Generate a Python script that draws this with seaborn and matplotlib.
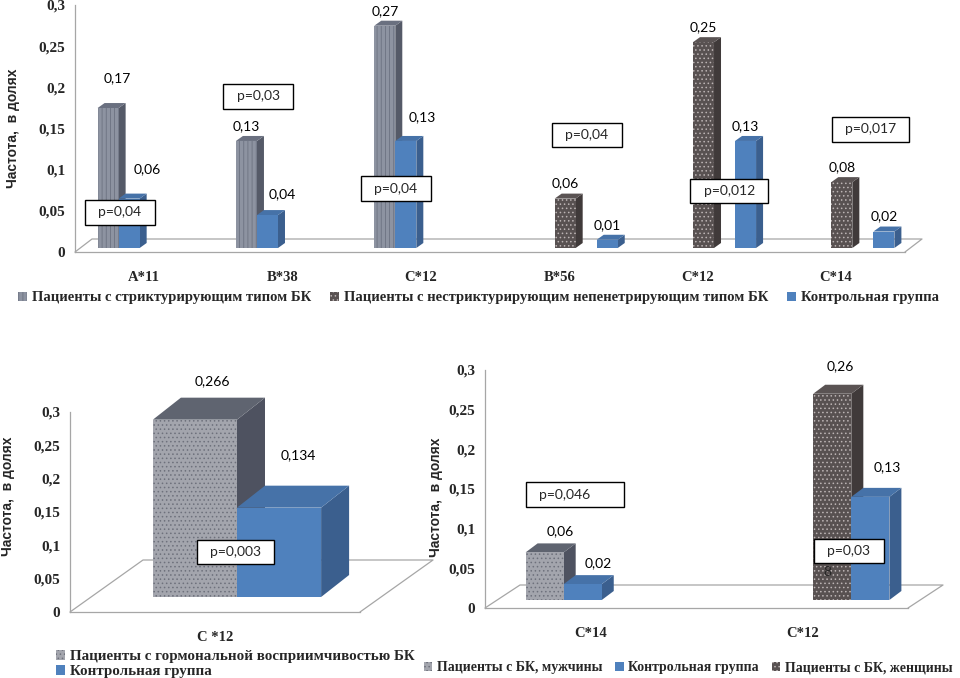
import numpy as np
import pandas as pd
import matplotlib
matplotlib.use("Agg")
import matplotlib.pyplot as plt
import matplotlib.transforms as mtransforms
from matplotlib.patches import Patch, Polygon
from matplotlib.font_manager import FontProperties
import seaborn as sns

# --- top chart: HLA alleles by Crohn's disease type
top_alleles = ["A*11", "B*38", "C*12", "B*56", "C*12", "C*14"]
top_strict = [0.17, 0.13, 0.27, np.nan, np.nan, np.nan]
top_nonstrict = [np.nan, np.nan, np.nan, 0.06, 0.25, 0.08]
top_control = [0.06, 0.04, 0.13, 0.01, 0.13, 0.02]
top_pvalues = ["p=0,04", "p=0,03", "p=0,04", "p=0,04", "p=0,012", "p=0,017"]

# --- bottom-left chart: hormone sensitivity
horm_alleles = ["C *12"]
horm_patients = [0.266]
horm_control = [0.134]
horm_pvalues = ["p=0,003"]

# --- bottom-right chart: by sex
sex_alleles = ["C*14", "C*12"]
sex_men = [0.06, np.nan]
sex_women = [np.nan, 0.26]
sex_control = [0.02, 0.13]
sex_pvalues = ["p=0,046", "p=0,03"]

LBL_STRICT = "Пациенты с стриктурирующим типом БК"
LBL_NONSTRICT = "Пациенты с нестриктурирующим непенетрирующим типом БК"
LBL_CONTROL = "Контрольная группа"
LBL_HORM = "Пациенты с гормональной восприимчивостью БК"
LBL_MEN = "Пациенты с БК, мужчины"
LBL_WOMEN = "Пациенты с БК, женщины"
YLABEL = "Частота,  в долях"

STYLES = {
    "striped": dict(front="#8d93a1", hatch="||||", hcol="#6c7281", side="#555a68", top="#6a7080"),
    "dotted": dict(front="#585151", hatch="....", hcol="#bcb4b4", side="#403a3a", top="#5a5353"),
    "light": dict(front="#a3a5ad", hatch="....", hcol="#6e717c", side="#4e5260", top="#5f6470"),
    "blue": dict(front="#4f81bd", hatch="", hcol="#4f81bd", side="#3b5f8e", top="#4672a8"),
}

sns.set_style("white")
plt.rcParams["hatch.linewidth"] = 0.6
SERIF_B = dict(family="Liberation Serif", weight="bold")
SANS = "Lato"

FW, FH = 960, 678
fig = plt.figure(figsize=(FW / 100, FH / 100), dpi=100)


def long_frame(series):
    rows = []
    for level, values in series:
        for i, v in enumerate(values):
            if not np.isnan(v):
                rows.append({"slot": i, "level": level, "value": v})
    return pd.DataFrame(rows)


def fmt(v):
    return ("%g" % round(v, 3)).replace(".", ",")


def panel(box, frame, levels, styles, width, alleles, shift, depth, floor,
          pvals, label_off, label_tweaks, ylab_xy):
    left, top, right, bottom = box
    ax = fig.add_axes([left / FW, 1 - bottom / FH, (right - left) / FW, (bottom - top) / FH])
    n = len(alleles)
    sns.barplot(data=frame, x="slot", y="value", hue="level", hue_order=levels,
                order=list(range(n)), width=width, dodge=True, legend=False,
                errorbar=None, saturation=1, ax=ax)
    ax.set_xlim(-0.5, n - 0.5)
    ax.set_ylim(0, 0.3)
    ux = n / (right - left)
    uy = 0.3 / (bottom - top)
    trans = ax.transData + mtransforms.ScaledTranslation(
        shift[0] / 100, shift[1] / 100, fig.dpi_scale_trans)
    ddx, ddy = depth[0] * ux, depth[1] * uy
    bars = [p for p in ax.patches if np.isfinite(p.get_height()) and p.get_height() > 0]
    bars.sort(key=lambda p: p.get_x())
    slot_w = width / len(levels)
    for i, p in enumerate(bars):
        x0, w, h = p.get_x(), p.get_width(), p.get_height()
        cat = int(round(x0 + w / 2))
        k = int(round((x0 + w / 2 - cat + width / 2) / slot_w - 0.5))
        level = levels[k]
        st = STYLES[styles[level]]
        z = 3 + i * 0.01
        p.set_facecolor(st["front"])
        p.set_hatch(st["hatch"])
        p.set_edgecolor(st["hcol"])
        p.set_linewidth(0)
        p.set_transform(trans)
        p.set_zorder(z + 0.005)
        p.set_clip_on(False)
        side = Polygon([(x0 + w, 0), (x0 + w + ddx, ddy), (x0 + w + ddx, h + ddy), (x0 + w, h)],
                       closed=True, facecolor=st["side"], edgecolor="none",
                       transform=trans, zorder=z, clip_on=False)
        topf = Polygon([(x0, h), (x0 + ddx, h + ddy), (x0 + w + ddx, h + ddy), (x0 + w, h)],
                       closed=True, facecolor=st["top"], edgecolor="none",
                       transform=trans, zorder=z, clip_on=False)
        ax.add_patch(side)
        ax.add_patch(topf)
        off = label_tweaks.get((cat, level), label_off)
        ax.annotate(fmt(h), xy=(x0 + w / 2, h), xycoords=trans, xytext=off,
                    textcoords="offset pixels", ha="center", va="center",
                    family=SANS, fontsize=10, color="black", zorder=10)
    # floor of the 3d box
    fdx, fdy = floor[0] * ux, floor[1] * uy
    x_a, x_b = -0.5, n - 0.5
    ax.plot([x_a, x_a + fdx, x_b + fdx, x_b], [0, fdy, fdy, 0], color="#a6a6a6",
            lw=0.9, clip_on=False, zorder=1)
    # p-value boxes
    for txt, (px, py) in pvals:
        ax.text(px, py, txt, family=SANS, fontsize=10, ha="center", va="center", zorder=12,
                bbox=dict(boxstyle="square,pad=0.45", facecolor="white",
                          edgecolor="black", linewidth=1.0))
    ax.set_ylim(0, 0.3)
    ax.set_xlim(-0.5, n - 0.5)
    for s in ["top", "right"]:
        ax.spines[s].set_visible(False)
    for s in ["left", "bottom"]:
        ax.spines[s].set_color("#a6a6a6")
        ax.spines[s].set_linewidth(0.9)
    yt = [0, 0.05, 0.1, 0.15, 0.2, 0.25, 0.3]
    ax.set_yticks(yt)
    ax.set_yticklabels([fmt(v) for v in yt], fontsize=11, **SERIF_B)
    ax.set_xticks(range(n))
    ax.set_xticklabels(alleles, fontsize=10.5, **SERIF_B)
    ax.set_xticks([i - 0.5 for i in range(n + 1)], minor=True)
    ax.tick_params(axis="x", which="major", length=0, pad=14)
    ax.tick_params(axis="x", which="minor", length=5, color="#a6a6a6", direction="out")
    ax.tick_params(axis="y", length=4, color="#a6a6a6", direction="out", pad=3)
    ax.set_xlabel("")
    ax.set_ylabel(YLABEL, family="Liberation Sans", weight="bold", fontsize=10)
    ax.yaxis.set_label_coords(*ylab_xy)
    return ax


def handle(key):
    st = STYLES[key]
    return Patch(facecolor=st["front"], hatch=st["hatch"], edgecolor=st["hcol"], linewidth=0)


# ---------------- top panel
top_levels = ["strict", "control_a", "nonstrict", "gap", "control_b"]
top_frame = long_frame([
    ("strict", top_strict),
    ("control_a", [v if i < 3 else np.nan for i, v in enumerate(top_control)]),
    ("nonstrict", top_nonstrict),
    ("control_b", [v if i >= 3 else np.nan for i, v in enumerate(top_control)]),
])
top_styles = {"strict": "striped", "control_a": "blue", "nonstrict": "dotted",
              "gap": "blue", "control_b": "blue"}
top_pbox = [(-0.175, 0.048), (-0.177, 0.189), (-0.18, 0.077),
            (0.2, 0.142), (0.23, 0.074), (0.25, 0.149)]
panel((75, 5, 905, 252), top_frame, top_levels, top_styles, 0.76, top_alleles,
      shift=(6, 4), depth=(7, 5), floor=(17, 13),
      pvals=[("  %s  " % t, (i + dx, y)) for i, (t, (dx, y)) in enumerate(zip(top_pvalues, top_pbox))],
      label_off=(0, 15),
      label_tweaks={(0, "strict"): (9, 30), (0, "control_a"): (18, 29),
                    (1, "control_a"): (15, 21), (2, "control_a"): (16, 24)},
      ylab_xy=(-0.066, 0.5))

fig.legend([handle("striped"), handle("dotted"), handle("blue")],
           [LBL_STRICT, LBL_NONSTRICT, LBL_CONTROL],
           loc="center left", bbox_to_anchor=(18 / FW, 1 - 298 / FH), ncol=3,
           frameon=False, borderpad=0, borderaxespad=0, handlelength=0.6,
           handleheight=0.6, handletextpad=0.35, columnspacing=1.3,
           prop=FontProperties(family="Liberation Serif", weight="bold", size=10.5))

# ---------------- bottom-left panel
horm_levels = ["patients", "control"]
horm_frame = long_frame([("patients", horm_patients), ("control", horm_control)])
panel((70, 412, 360, 612), horm_frame, horm_levels, {"patients": "light", "control": "blue"},
      0.58, horm_alleles, shift=(22, 15), depth=(28, 22), floor=(73, 52),
      pvals=[("  %s  " % horm_pvalues[0], (0.07, 0.09))],
      label_off=(17, 39), label_tweaks={(0, "control"): (19, 53)},
      ylab_xy=(-0.19, 0.58))

fig.legend([handle("light"), handle("blue")], [LBL_HORM, LBL_CONTROL],
           loc="upper left", bbox_to_anchor=(56 / FW, 1 - 650 / FH), ncol=1,
           frameon=False, borderpad=0, borderaxespad=0, handlelength=0.6,
           handleheight=0.6, handletextpad=0.35, labelspacing=0.15,
           prop=FontProperties(family="Liberation Serif", weight="bold", size=10.8))

# ---------------- bottom-right panel
sex_levels = ["men", "control_a", "women", "control_b"]
sex_frame = long_frame([
    ("men", sex_men),
    ("control_a", [sex_control[0], np.nan]),
    ("women", sex_women),
    ("control_b", [np.nan, sex_control[1]]),
])
ax3 = panel((485, 370, 908, 608), sex_frame, sex_levels,
            {"men": "light", "control_a": "blue", "women": "dotted", "control_b": "blue"},
            0.72, sex_alleles, shift=(11, 8), depth=(12, 9), floor=(35, 23),
            pvals=[("  %s        " % sex_pvalues[0], (-0.075, 0.143)),
                   ("  %s  " % sex_pvalues[1], (1.22, 0.072))],
            label_off=(16, 21),
            label_tweaks={(1, "women"): (8, 28), (1, "control_b"): (17, 30)},
            ylab_xy=(-0.099, 0.466))
ax3.text(1.12, 0.045, "8", family=SANS, fontsize=10, ha="center", va="center", zorder=12)

fig.legend([handle("light"), handle("blue"), handle("dotted")], [LBL_MEN, LBL_CONTROL, LBL_WOMEN],
           loc="center left", bbox_to_anchor=(424 / FW, 1 - 668 / FH), ncol=3,
           frameon=False, borderpad=0, borderaxespad=0, handlelength=0.6,
           handleheight=0.6, handletextpad=0.35, columnspacing=0.9,
           prop=FontProperties(family="Liberation Serif", weight="bold", size=10))

fig.savefig("out.png", dpi=100)
